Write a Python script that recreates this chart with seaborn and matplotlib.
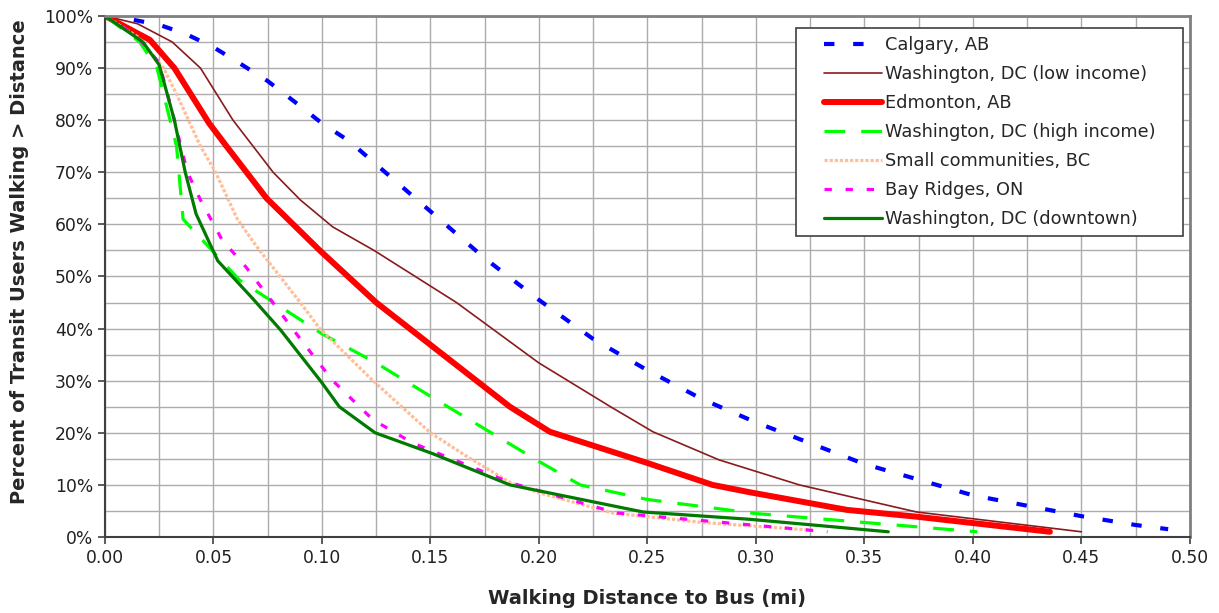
import matplotlib
matplotlib.use("Agg")
import numpy as np
import matplotlib.pyplot as plt
import seaborn as sns
from matplotlib.ticker import MultipleLocator, FuncFormatter
from matplotlib.legend_handler import HandlerLine2D
from matplotlib.lines import Line2D

# walking distance (mi) vs percent of users walking further
calgary_x = [0, 0.0125, 0.025, 0.0375, 0.05, 0.0625, 0.075, 0.0875, 0.1, 0.1125, 0.125, 0.15,
             0.175, 0.2, 0.225, 0.25, 0.275, 0.3, 0.325, 0.35, 0.375, 0.4, 0.425, 0.45, 0.475, 0.49]
calgary_y = [100, 99.3, 98.3, 96.5, 94, 90.8, 87.5, 83.5, 79.4, 76, 71.5, 62.5,
             53.5, 45.5, 38, 32, 26.5, 22, 18, 14, 11, 8, 6, 4, 2.3, 1.5]

low_x = [0, 0.015, 0.031, 0.044, 0.059, 0.0775, 0.09, 0.105, 0.124, 0.162, 0.2, 0.233,
         0.2525, 0.283, 0.32, 0.374, 0.45]
low_y = [100, 98.5, 95, 90, 80, 70, 64.7, 59.5, 55, 45, 33.4, 25, 20.2, 14.8, 10, 4.8, 1]

edm_x = [0, 0.0207, 0.032, 0.048, 0.056, 0.0745, 0.099, 0.125, 0.1866, 0.205, 0.25, 0.28,
         0.297, 0.342, 0.374, 0.4355]
edm_y = [100, 95.4, 90, 79.4, 75, 65, 55, 45, 25, 20.2, 14.2, 10, 8.6, 5.2, 3.9, 1]

high_x = [0, 0.016, 0.024, 0.033, 0.036, 0.044, 0.062, 0.1, 0.125, 0.15, 0.2, 0.219, 0.25, 0.3, 0.402]
high_y = [100, 95, 90, 75, 61, 57.4, 49.3, 39, 33.4, 27, 14.5, 10, 7.2, 4.5, 1]

small_x = [0, 0.015, 0.027, 0.033, 0.044, 0.051, 0.061, 0.07, 0.09, 0.099, 0.1235, 0.15,
           0.167, 0.187, 0.2, 0.234, 0.275, 0.326]
small_y = [100, 96, 90, 85, 75, 70, 61, 55.7, 45, 40, 30, 20, 15.4, 10.4, 8.5, 4.6, 2.8, 1.3]

bay_x = [0, 0.015, 0.025, 0.032, 0.038, 0.044, 0.054, 0.065, 0.073, 0.0915, 0.105, 0.1235,
         0.142, 0.187, 0.236, 0.333]
bay_y = [100, 96, 91, 80, 70, 64.7, 57, 51.8, 47.4, 37.2, 30, 22.5, 18, 10.4, 4.6, 1]

down_x = [0, 0.0175, 0.025, 0.032, 0.037, 0.042, 0.052, 0.068, 0.081, 0.1, 0.108, 0.1245,
          0.151, 0.1866, 0.248, 0.297, 0.361]
down_y = [100, 95, 90.6, 80, 70, 62, 53, 45.8, 39.7, 29.6, 25, 20, 16, 10, 4.8, 3.4, 1]

series = [
    ("Calgary, AB", calgary_x, calgary_y, "#0000FF", 3.0, (0, (2.5, 4.5))),
    ("Washington, DC (low income)", low_x, low_y, "#8B1A1A", 1.2, "-"),
    ("Edmonton, AB", edm_x, edm_y, "#FF0000", 4.3, "-"),
    ("Washington, DC (high income)", high_x, high_y, "#00FF00", 2.3, (0, (6.5, 5))),
    ("Small communities, BC", small_x, small_y, "#FFBE98", 2.3, (0, (1, 0.6))),
    ("Bay Ridges, ON", bay_x, bay_y, "#FF00FF", 2.3, (0, (2.3, 4.3))),
    ("Washington, DC (downtown)", down_x, down_y, "#007A00", 2.3, "-"),
]


class PaddedLine(HandlerLine2D):
    # legend line drawn only on the right part of the handle box (Excel look)
    def create_artists(self, legend, orig_handle, xdescent, ydescent, width, height, fontsize, trans):
        arts = super().create_artists(legend, orig_handle, xdescent, ydescent, width, height, fontsize, trans)
        for a in arts:
            if isinstance(a, Line2D):
                xd = np.asarray(a.get_xdata(), dtype=float)
                if len(xd) > 1:
                    x0, x1 = xd[0], xd[-1]
                    a.set_xdata(np.linspace(x0 + 0.26 * (x1 - x0), x1, len(xd)))
        return arts


sns.set_style("white")
plt.rcParams['font.family'] = ['DejaVu Sans']

fig = plt.figure(figsize=(12.19, 6.13), dpi=100)
ax = fig.add_axes([0.0861, 0.124, 0.890, 0.850])

for name, xs, ys, col, lw, ls in series:
    sns.lineplot(x=xs, y=ys, ax=ax, color=col, lw=lw, linestyle=ls, label=name, sort=False)

ax.set_xlim(0, 0.5)
ax.set_ylim(0, 100)
ax.xaxis.set_major_locator(MultipleLocator(0.05))
ax.xaxis.set_minor_locator(MultipleLocator(0.025))
ax.yaxis.set_major_locator(MultipleLocator(10))
ax.yaxis.set_minor_locator(MultipleLocator(5))
ax.xaxis.set_major_formatter(FuncFormatter(lambda v, p: f"{v:.2f}"))
ax.yaxis.set_major_formatter(FuncFormatter(lambda v, p: f"{v:.0f}%"))
ax.grid(True, which='both', color='#acacac', lw=1)
ax.set_axisbelow(True)
ax.tick_params(axis='both', which='major', direction='out', length=5, width=1.2,
               color='#404040', labelsize=12.3, labelcolor='#202020', left=True, bottom=True)
ax.tick_params(axis='both', which='minor', length=0)

for s in ['left', 'bottom']:
    ax.spines[s].set_color('#404040')
    ax.spines[s].set_linewidth(1.5)
for s in ['top', 'right']:
    ax.spines[s].set_color('#808080')
    ax.spines[s].set_linewidth(2)

ax.set_xlabel("Walking Distance to Bus (mi)", fontsize=14, fontweight='bold', labelpad=16)
ax.set_ylabel("Percent of Transit Users Walking > Distance", fontsize=14, fontweight='bold')
ax.yaxis.set_label_coords(-0.070, 0.528)

handles, labels = ax.get_legend_handles_labels()
leg = ax.legend(handles, labels, loc='upper left', bbox_to_anchor=(0.637, 0.5835, 0.3565, 0.3935),
                mode='expand', fontsize=12.8, frameon=True, fancybox=False, edgecolor='#404040',
                framealpha=1, handlelength=4.4, handletextpad=0.15, labelspacing=0.62,
                borderpad=0.45, borderaxespad=0, handler_map={Line2D: PaddedLine()})
leg.get_frame().set_linewidth(1.2)

fig.savefig("out.png", dpi=100)
